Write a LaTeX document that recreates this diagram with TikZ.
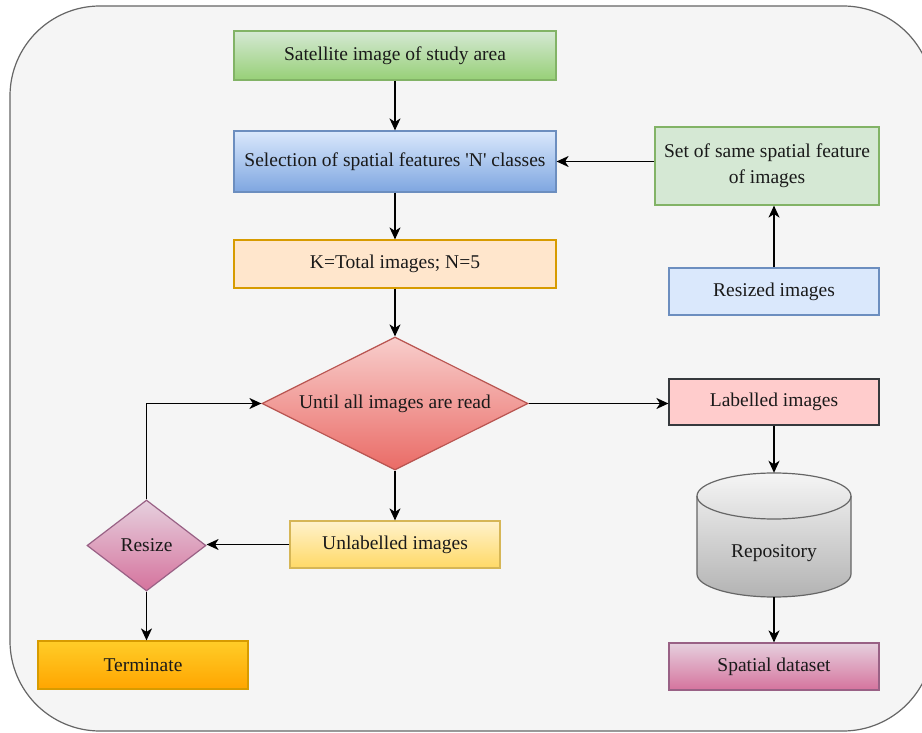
\documentclass[tikz,border=0pt]{standalone}
\usepackage{fontspec}
\setmainfont{Liberation Serif}[Ligatures=TeXOff]
\usetikzlibrary{shapes.geometric,arrows.meta}
\definecolor{bgc}{HTML}{F5F5F5}
\definecolor{bgb}{HTML}{666666}
\definecolor{gA}{HTML}{D5E8D4}\definecolor{gB}{HTML}{97D077}\definecolor{gD}{HTML}{82B366}
\definecolor{bA}{HTML}{DAE8FC}\definecolor{bB}{HTML}{7EA6E0}\definecolor{bD}{HTML}{6C8EBF}
\definecolor{oA}{HTML}{FFE6CC}\definecolor{oD}{HTML}{D79B00}
\definecolor{rA}{HTML}{F8CECC}\definecolor{rB}{HTML}{EA6B66}\definecolor{rD}{HTML}{B85450}
\definecolor{pkA}{HTML}{FFCCCC}\definecolor{pkD}{HTML}{36393D}
\definecolor{grA}{HTML}{F5F5F5}\definecolor{grB}{HTML}{B3B3B3}
\definecolor{mA}{HTML}{E6D0DE}\definecolor{mB}{HTML}{D5739D}\definecolor{mD}{HTML}{996185}
\definecolor{yA}{HTML}{FFF2CC}\definecolor{yB}{HTML}{FFD966}\definecolor{yD}{HTML}{D6B656}
\definecolor{tA}{HTML}{FFCD28}\definecolor{tB}{HTML}{FFA500}
\definecolor{txt}{HTML}{1A1A1A}
\begin{document}
\begin{tikzpicture}[x=1pt,y=1pt,
  every node/.style={font=\fontsize{19.5}{26}\selectfont, text=txt},
  box/.style={rectangle, draw, line width=1.2pt, inner sep=0pt, align=center},
  dia/.style={diamond, draw, line width=1.2pt, inner sep=0pt, align=center},
  conn/.style={line width=1.5pt, -{Stealth[length=12pt,width=11pt,inset=3.5pt]}}]
\useasboundingbox (0,0) rectangle (922,732);
\draw[bgb, fill=bgc, line width=1.2pt, rounded corners=90pt] (10,1) rectangle (933,726);

\node[box, draw=gD, top color=gA, bottom color=gB, minimum width=322, minimum height=49] (sat) at (395,676.5) {Satellite image of study area};
\node[box, draw=bD, top color=bA, bottom color=bB, minimum width=322, minimum height=61] (sel) at (395,570.5) {Selection of spatial features 'N' classes};
\node[box, draw=oD, fill=oA, minimum width=322, minimum height=48] (kt) at (395,468) {K=Total images; N=5};
\node[box, draw=gD, fill=gA, minimum width=224, minimum height=78] (set) at (767,566) {Set of same spatial feature\\of images};
\node[box, draw=bD, fill=bA, minimum width=210, minimum height=47] (res) at (774,440.5) {Resized images};
\node[dia, shape aspect=2, draw=rD, top color=rA, bottom color=rB, minimum width=266, minimum height=133] (until) at (395,328.5) {Until all images are read};
\node[box, draw=pkD, fill=pkA, minimum width=210, minimum height=46] (lab) at (774,330) {Labelled images};
\node[box, draw=yD, top color=yA, bottom color=yB, minimum width=210, minimum height=47] (unl) at (395,187.5) {Unlabelled images};
\node[dia, shape aspect=1.3, draw=mD, top color=mA, bottom color=mB, minimum width=119, minimum height=91] (rsz) at (146.5,186.5) {Resize};
\node[box, draw=oD, top color=tA, bottom color=tB, minimum width=210, minimum height=48] (term) at (143,67) {Terminate};
\node[box, draw=mD, top color=mA, bottom color=mB, minimum width=210, minimum height=47] (sd) at (774,65.5) {Spatial dataset};

% repository cylinder
\draw[bgb, line width=1.2pt, top color=grA, bottom color=grB]
  (697,236) -- (697,158) arc[start angle=180, end angle=360, x radius=77, y radius=23]
  -- (851,236) arc[start angle=0, end angle=180, x radius=77, y radius=23] -- cycle;
\draw[bgb, line width=1.2pt] (697,236) arc[start angle=180, end angle=360, x radius=77, y radius=23];
\node[rectangle, inner sep=0pt, minimum width=154, minimum height=124] (repo) at (774,197) {};
\node[inner sep=0pt] (repotext) at (774,179) {Repository};

\draw[conn] (sat) -- (sel);
\draw[conn] (set.west |- sel.east) -- (sel.east);
\draw[conn] (sel) -- (kt);
\draw[conn] (res) -- (res.north |- set.south);
\draw[conn] (kt) -- (until.north);
\draw[conn] (until.east) -- (until.east -| lab.west);
\draw[conn] (until.south) -- (unl);
\draw[conn] (unl.west) -- (unl.west -| rsz.east);
\draw[conn] (rsz.north) |- (until.west);
\draw[conn] (rsz.south) -- (rsz.south |- term.north);
\draw[conn] (lab) -- (repo.north);
\draw[conn] (repo.south) -- (sd);
\end{tikzpicture}
\end{document}
